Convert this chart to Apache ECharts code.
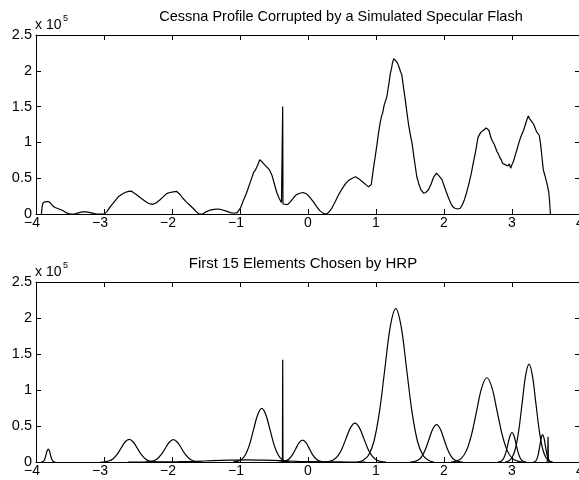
<!DOCTYPE html>
<html>
<head>
<meta charset="utf-8">
<script src="https://cdn.jsdelivr.net/npm/echarts@6/dist/echarts.min.js"></script>
<style>
html,body{margin:0;padding:0;background:#fff;}
#c{width:579px;height:480px;}
</style>
</head>
<body>
<div id="c"></div>
<script>
// Titles / labels
var topTitle = 'Cessna Profile Corrupted by a Simulated Specular Flash';
var bottomTitle = 'First 15 Elements Chosen by HRP';
var xTickLabels = ['−4','−3','−2','−1','0','1','2','3','4'];
var yTickLabels = ['0','0.5','1','1.5','2','2.5'];

// Top: corrupted profile, [x, value in units of 1e5]
var profile = [
[-3.92,0],[-3.91,0.10],[-3.90,0.15],[-3.87,0.17],[-3.83,0.175],[-3.80,0.165],[-3.76,0.12],[-3.72,0.09],[-3.66,0.07],[-3.60,0.045],[-3.55,0.015],[-3.50,0.0],[-3.43,0.0],[-3.38,0.015],[-3.32,0.03],[-3.26,0.03],[-3.20,0.02],[-3.14,0.005],[-3.10,0],[-3.0,0],
[-2.96,0.03],[-2.91,0.10],[-2.85,0.17],[-2.79,0.24],[-2.73,0.28],[-2.69,0.30],[-2.64,0.315],[-2.60,0.32],[-2.57,0.30],[-2.52,0.27],[-2.47,0.23],[-2.41,0.19],[-2.35,0.15],[-2.29,0.135],[-2.24,0.15],[-2.18,0.195],[-2.13,0.24],[-2.08,0.285],[-2.03,0.30],[-1.98,0.31],[-1.93,0.315],[-1.89,0.28],[-1.84,0.22],[-1.79,0.17],[-1.74,0.125],[-1.68,0.07],[-1.63,0.02],[-1.60,0],[-1.55,0],
[-1.50,0.03],[-1.44,0.055],[-1.38,0.065],[-1.33,0.07],[-1.27,0.06],[-1.20,0.04],[-1.14,0.02],[-1.09,0.01],[-1.04,0.02],[-0.99,0.09],[-0.95,0.19],[-0.91,0.28],[-0.88,0.36],[-0.84,0.47],[-0.80,0.58],[-0.77,0.62],[-0.74,0.68],[-0.71,0.76],[-0.70,0.78],[-0.67,0.72],[-0.63,0.68],[-0.60,0.65],[-0.57,0.62],[-0.53,0.54],[-0.50,0.44],[-0.46,0.30],[-0.42,0.21],[-0.39,0.16],[-0.375,0.15],[-0.372,1.50],[-0.368,0.14],[-0.34,0.12],[-0.30,0.13],[-0.26,0.17],[-0.21,0.23],[-0.17,0.27],[-0.12,0.29],[-0.07,0.30],[-0.02,0.28],[0.03,0.23],[0.08,0.17],[0.13,0.10],[0.18,0.04],[0.23,0.005],[0.27,0],
[0.30,0.02],[0.35,0.08],[0.40,0.17],[0.45,0.27],[0.50,0.35],[0.55,0.42],[0.60,0.47],[0.65,0.50],[0.70,0.52],[0.75,0.49],[0.80,0.45],[0.85,0.41],[0.89,0.38],[0.93,0.41],[0.96,0.62],[1.01,0.94],[1.04,1.15],[1.06,1.27],[1.08,1.36],[1.10,1.42],[1.12,1.52],[1.14,1.58],[1.16,1.64],[1.18,1.76],[1.19,1.82],[1.21,1.96],[1.23,2.04],[1.24,2.10],[1.26,2.17],[1.27,2.19],[1.28,2.15],[1.30,2.13],[1.32,2.10],[1.34,2.05],[1.36,1.99],[1.38,1.94],[1.40,1.80],[1.43,1.60],[1.45,1.45],[1.48,1.24],[1.51,1.08],[1.53,0.99],[1.56,0.78],[1.60,0.52],[1.63,0.42],[1.66,0.34],[1.70,0.29],[1.73,0.30],[1.77,0.335],[1.81,0.42],[1.85,0.52],[1.89,0.57],[1.93,0.53],[1.97,0.48],[2.01,0.37],[2.06,0.24],[2.10,0.15],[2.13,0.10],[2.16,0.08],[2.20,0.07],[2.24,0.08],[2.27,0.13],[2.30,0.20],[2.33,0.29],[2.36,0.40],[2.40,0.56],[2.43,0.71],[2.46,0.85],[2.48,0.96],[2.50,1.07],[2.52,1.08],[2.54,1.14],[2.56,1.13],[2.58,1.17],[2.60,1.16],[2.62,1.20],[2.64,1.21],[2.66,1.17],[2.68,1.10],[2.70,1.04],[2.72,1.05],[2.74,0.97],[2.76,0.95],[2.78,0.87],[2.80,0.84],[2.82,0.79],[2.84,0.76],[2.86,0.71],[2.88,0.73],[2.90,0.69],[2.92,0.71],[2.94,0.67],[2.96,0.70],[2.98,0.64],[3.00,0.69],[3.02,0.73],[3.05,0.83],[3.07,0.89],[3.10,0.99],[3.13,1.08],[3.17,1.17],[3.20,1.26],[3.22,1.32],[3.24,1.37],[3.26,1.33],[3.28,1.35],[3.30,1.28],[3.32,1.25],[3.34,1.20],[3.36,1.15],[3.38,1.17],[3.40,1.10],[3.42,0.98],[3.44,0.80],[3.46,0.62],[3.48,0.55],[3.50,0.48],[3.52,0.40],[3.54,0.31],[3.555,0.15],[3.565,0]
];

// Bottom: the 15 elements chosen by HRP, [x, value in units of 1e5]
var elem01 = [[-3.925,0],[-3.91,0.002],[-3.895,0.008],[-3.88,0.024],[-3.865,0.058],[-3.85,0.109],[-3.835,0.159],[-3.82,0.18],[-3.805,0.159],[-3.79,0.109],[-3.775,0.058],[-3.76,0.024],[-3.745,0.008],[-3.73,0.002],[-3.715,0]];
var elem02 = [[-3.05,0],[-2.99,0.0035],[-2.93,0.014],[-2.87,0.043],[-2.81,0.102],[-2.75,0.191],[-2.69,0.278],[-2.63,0.315],[-2.57,0.278],[-2.51,0.191],[-2.45,0.102],[-2.39,0.043],[-2.33,0.014],[-2.27,0.0035],[-2.21,0]];
var elem03 = [[-2.40,0],[-2.34,0.0034],[-2.28,0.014],[-2.22,0.042],[-2.16,0.101],[-2.10,0.188],[-2.04,0.274],[-1.98,0.31],[-1.92,0.274],[-1.86,0.188],[-1.80,0.101],[-1.74,0.042],[-1.68,0.014],[-1.62,0.0034],[-1.56,0]];
var elem04 = [[-1.10,0],[-1.04,0.0083],[-0.98,0.033],[-0.92,0.101],[-0.86,0.242],[-0.80,0.452],[-0.74,0.657],[-0.68,0.745],[-0.62,0.657],[-0.56,0.452],[-0.50,0.242],[-0.44,0.101],[-0.38,0.033],[-0.32,0.0083],[-0.26,0]];
var elem05 = [[-0.376,0],[-0.372,1.42],[-0.368,0]];
var elem06 = [[-0.43,0],[-0.38,0.0034],[-0.33,0.013],[-0.28,0.041],[-0.23,0.099],[-0.18,0.185],[-0.13,0.269],[-0.08,0.305],[-0.03,0.269],[0.02,0.185],[0.07,0.099],[0.12,0.041],[0.17,0.013],[0.22,0.0034],[0.27,0]];
var elem07 = [[0.235,0],[0.30,0.006],[0.365,0.024],[0.43,0.073],[0.495,0.175],[0.56,0.328],[0.625,0.477],[0.69,0.54],[0.755,0.477],[0.82,0.328],[0.885,0.175],[0.95,0.073],[1.015,0.024],[1.08,0.006],[1.145,0]];
var elem08 = [[0.73,0],[0.81,0.024],[0.89,0.094],[0.97,0.288],[1.05,0.692],[1.13,1.292],[1.21,1.880],[1.29,2.13],[1.37,1.880],[1.45,1.292],[1.53,0.692],[1.61,0.288],[1.69,0.094],[1.77,0.024],[1.85,0]];
var elem09 = [[1.505,0],[1.56,0.0058],[1.615,0.023],[1.67,0.070],[1.725,0.169],[1.78,0.315],[1.835,0.459],[1.89,0.52],[1.945,0.459],[2.00,0.315],[2.055,0.169],[2.11,0.070],[2.165,0.023],[2.22,0.0058],[2.275,0]];
var elem10 = [[2.105,0],[2.18,0.013],[2.255,0.051],[2.33,0.158],[2.405,0.380],[2.48,0.710],[2.555,1.033],[2.63,1.17],[2.705,1.033],[2.78,0.710],[2.855,0.380],[2.93,0.158],[3.005,0.051],[3.08,0.013],[3.155,0]];
var elem11 = [[2.79,0],[2.82,0.0046],[2.85,0.018],[2.88,0.055],[2.91,0.133],[2.94,0.249],[2.97,0.362],[3.00,0.41],[3.03,0.362],[3.06,0.249],[3.09,0.133],[3.12,0.055],[3.15,0.018],[3.18,0.0046],[3.21,0]];
var elem12 = [[2.90,0],[2.95,0.015],[3.00,0.060],[3.05,0.184],[3.10,0.442],[3.15,0.825],[3.20,1.200],[3.25,1.36],[3.30,1.200],[3.35,0.825],[3.40,0.442],[3.45,0.184],[3.50,0.060],[3.55,0.015],[3.60,0]];
var elem13 = [[3.31,0],[3.33,0.0042],[3.35,0.017],[3.37,0.051],[3.39,0.123],[3.41,0.230],[3.43,0.335],[3.45,0.38],[3.47,0.335],[3.49,0.230],[3.51,0.123],[3.53,0.051],[3.55,0.017],[3.57,0.0042],[3.59,0]];
var elem14 = [[3.515,0],[3.525,0.05],[3.53,0.35],[3.535,0.05],[3.545,0]];
var elem15 = [[-2.65,0],[-2.4,0.0003],[-2.15,0.0013],[-1.9,0.0041],[-1.65,0.0097],[-1.4,0.018],[-1.15,0.026],[-0.9,0.03],[-0.65,0.026],[-0.4,0.018],[-0.15,0.0097],[0.1,0.0041],[0.35,0.0013],[0.6,0.0003],[0.85,0]];

var elements = [elem01,elem02,elem03,elem04,elem05,elem06,elem07,elem08,elem09,elem10,elem11,elem12,elem13,elem14,elem15];
var spikeElements = [elem05, elem14];

var FONT = '"Liberation Sans", Arial, Helvetica, sans-serif';
var LW = 1.2;

function xLabel(v){
  var i = Math.round(v + 4);
  var s = xTickLabels[i];
  return v < 0 ? '{n|' + s + '}' : '{p|' + s + '}';
}
function yLabel(v){
  var i = Math.round(v / 0.5);
  return yTickLabels[i];
}

function bottomX(g){
  return {
    type:'value', gridIndex:g, min:-4, max:4, interval:1, position:'bottom',
    axisLine:{show:true, onZero:false, lineStyle:{color:'#000', width:1}},
    axisTick:{show:true, inside:true, length:5, lineStyle:{color:'#000'}},
    splitLine:{show:false},
    axisLabel:{show:true, margin:2, color:'#000', fontSize:14, fontFamily:FONT, formatter:xLabel, hideOverlap:false,
      showMinLabel:true, showMaxLabel:true,
      rich:{n:{fontSize:14, fontFamily:FONT, color:'#000', padding:[0,8,0,0]}, p:{fontSize:14, fontFamily:FONT, color:'#000'}}}
  };
}
function topX(g){
  return {
    type:'value', gridIndex:g, min:-4, max:4, interval:1, position:'top',
    axisLine:{show:true, onZero:false, lineStyle:{color:'#000', width:1}},
    axisTick:{show:true, inside:true, length:5, lineStyle:{color:'#000'}},
    splitLine:{show:false}, axisLabel:{show:false}
  };
}
function leftY(g){
  return {
    type:'value', gridIndex:g, min:0, max:2.5, interval:0.5, position:'left',
    axisLine:{show:true, onZero:false, lineStyle:{color:'#000', width:1}},
    axisTick:{show:true, inside:true, length:5, lineStyle:{color:'#000'}},
    splitLine:{show:false},
    axisLabel:{show:true, margin:4, color:'#000', fontSize:14.5, fontFamily:FONT, formatter:yLabel, showMinLabel:true, showMaxLabel:true}
  };
}
function rightY(g){
  return {
    type:'value', gridIndex:g, min:0, max:2.5, interval:0.5, position:'right',
    axisLine:{show:true, onZero:false, lineStyle:{color:'#000', width:1}},
    axisTick:{show:true, inside:true, length:5, lineStyle:{color:'#000'}},
    splitLine:{show:false}, axisLabel:{show:false}
  };
}

var series = [{
  type:'line', xAxisIndex:0, yAxisIndex:0, data:profile, showSymbol:false, symbol:'none',
  lineStyle:{color:'#000', width:LW}, silent:true
}];
elements.forEach(function(el){
  var spike = spikeElements.indexOf(el) >= 0;
  series.push({
    type:'line', xAxisIndex:2, yAxisIndex:2, data:el, showSymbol:false, symbol:'none',
    smooth: spike ? false : 0.35,
    lineStyle:{color:'#000', width:LW}, silent:true
  });
});

var chart = echarts.init(document.getElementById('c'), null, {renderer:'canvas'});
chart.setOption({
  animation:false,
  backgroundColor:'#fff',
  grid:[
    {left:36, top:35, width:544, height:179, containLabel:false, outerBoundsMode:'none'},
    {left:36, top:282, width:544, height:180, containLabel:false, outerBoundsMode:'none'}
  ],
  xAxis:[bottomX(0), topX(0), bottomX(1), topX(1)],
  yAxis:[leftY(0), rightY(0), leftY(1), rightY(1)],
  series:series,
  graphic:[
    {type:'text', x:341, y:17, style:{text:topTitle, fill:'#000', font:'14.5px ' + FONT, textAlign:'center', textVerticalAlign:'middle'}},
    {type:'text', x:303, y:264, style:{text:bottomTitle, fill:'#000', font:'15px ' + FONT, textAlign:'center', textVerticalAlign:'middle'}},
    {type:'text', x:35, y:25, style:{text:'x 10', fill:'#000', font:'14px ' + FONT, textVerticalAlign:'middle'}},
    {type:'text', x:63, y:19, style:{text:'5', fill:'#000', font:'9px ' + FONT, textVerticalAlign:'middle'}},
    {type:'text', x:35, y:272, style:{text:'x 10', fill:'#000', font:'14px ' + FONT, textVerticalAlign:'middle'}},
    {type:'text', x:63, y:266, style:{text:'5', fill:'#000', font:'9px ' + FONT, textVerticalAlign:'middle'}}
  ]
});
</script>
</body>
</html>
